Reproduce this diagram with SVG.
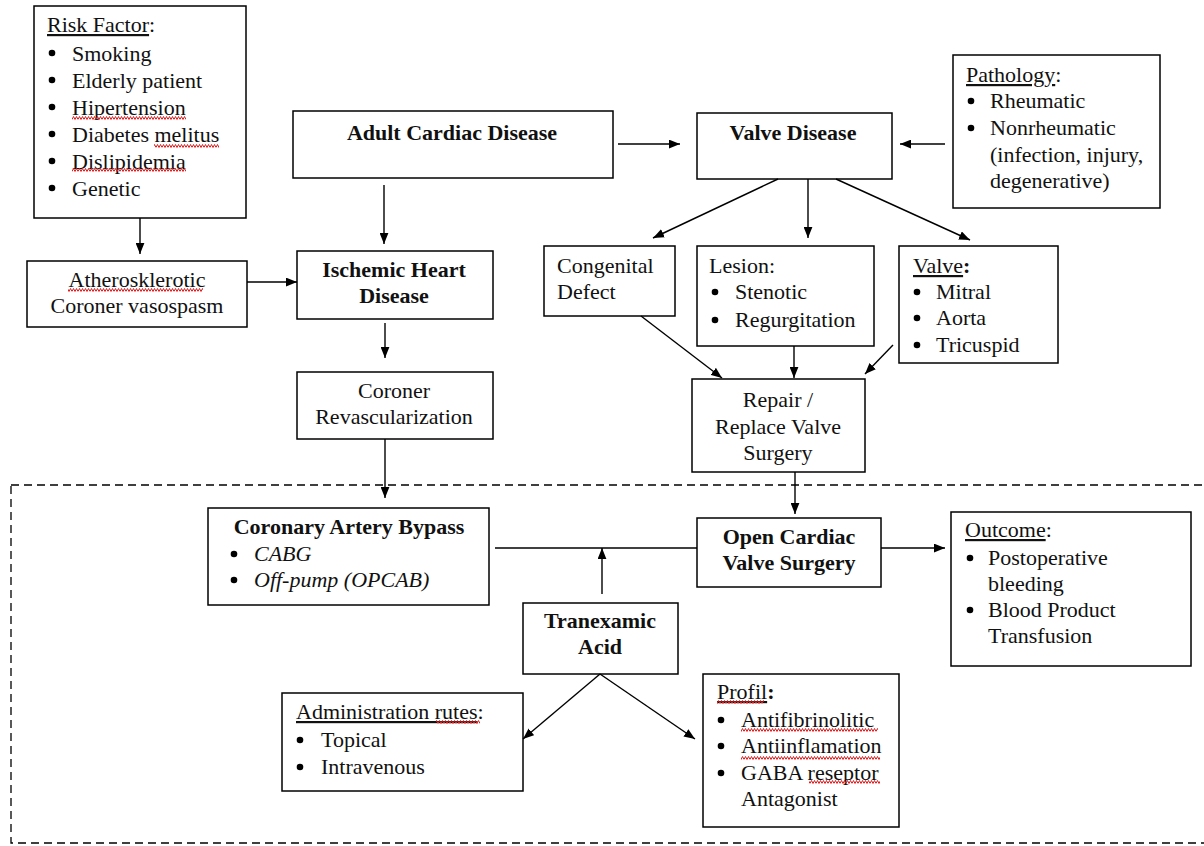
<svg xmlns="http://www.w3.org/2000/svg" width="1204" height="846" viewBox="0 0 1204 846">
<style>
  .box { fill: #fff; stroke: #000; stroke-width: 1.5; }
  text { font-family: "Liberation Serif", "Times New Roman", serif; font-size: 22px; fill: #111; }
  .b { font-weight: bold; }
  .c { text-anchor: middle; }
  .i { font-style: italic; }
  .u { text-decoration: underline; }
  .conn line { stroke: #000; stroke-width: 1.4; }
  .arr { marker-end: url(#ah); }
  .dot { fill: #000; }
  .sq { fill: url(#wave); }
</style>
<defs>
  <marker id="ah" viewBox="0 0 10 8" refX="10" refY="4" markerWidth="11" markerHeight="9" orient="auto" markerUnits="userSpaceOnUse">
    <path d="M0,0 L10,4 L0,8 z" fill="#000"/>
  </marker>
  <pattern id="wave" width="6" height="4" patternUnits="userSpaceOnUse">
    <path d="M0 3.5 L1.5 0.5 L3 3.5 L4.5 0.5 L6 3.5" fill="none" stroke="#e02020" stroke-width="1"/>
  </pattern>
</defs>
<rect width="1204" height="846" fill="#fff"/>

<!-- dashed region -->
<rect x="11" y="485" width="1200" height="358" fill="none" stroke="#000" stroke-width="1.3" stroke-dasharray="8,5"/>

<g id="risk-factor">
  <rect class="box" x="34" y="6" width="212" height="212"/>
  <text x="47" y="32"><tspan class="u">Risk Factor</tspan>:</text>
  <circle class="dot" cx="52" cy="53" r="3.3"/><text x="72" y="61">Smoking</text>
  <circle class="dot" cx="52" cy="80" r="3.3"/><text x="72" y="88">Elderly patient</text>
  <circle class="dot" cx="52" cy="107" r="3.3"/><text x="72" y="115">Hipertension</text>
  <circle class="dot" cx="52" cy="134" r="3.3"/><text x="72" y="142">Diabetes melitus</text>
  <circle class="dot" cx="52" cy="161" r="3.3"/><text x="72" y="169">Dislipidemia</text>
  <circle class="dot" cx="52" cy="188" r="3.3"/><text x="72" y="196">Genetic</text>
  <rect class="sq" x="72" y="116" width="114" height="4"/>
  <rect class="sq" x="154" y="144" width="65" height="4"/>
  <rect class="sq" x="72" y="168" width="114" height="4"/>
</g>

<g id="atherosklerotic">
  <rect class="box" x="27" y="261" width="220" height="66"/>
  <text class="c" x="137" y="287">Atherosklerotic</text>
  <text class="c" x="137" y="313">Coroner vasospasm</text>
  <rect class="sq" x="68" y="288" width="135" height="4"/>
</g>

<g id="adult-cardiac">
  <rect class="box" x="293" y="111" width="320" height="67"/>
  <text class="b c" x="452" y="140">Adult Cardiac Disease</text>
</g>

<g id="ischemic">
  <rect class="box" x="297" y="251" width="196" height="68"/>
  <text class="b c" x="394" y="277">Ischemic Heart</text>
  <text class="b c" x="394" y="303">Disease</text>
</g>

<g id="coroner-revasc">
  <rect class="box" x="297" y="372" width="196" height="67"/>
  <text class="c" x="394" y="398">Coroner</text>
  <text class="c" x="394" y="424">Revascularization</text>
</g>

<g id="valve-disease">
  <rect class="box" x="697" y="113" width="195" height="66"/>
  <text class="b c" x="793" y="140">Valve Disease</text>
</g>

<g id="pathology">
  <rect class="box" x="953" y="55" width="207" height="153"/>
  <text x="966" y="82"><tspan class="u">Pathology</tspan>:</text>
  <circle class="dot" cx="971" cy="101" r="3.3"/><text x="990" y="108">Rheumatic</text>
  <circle class="dot" cx="971" cy="128" r="3.3"/><text x="990" y="135">Nonrheumatic</text>
  <text x="990" y="162">(infection, injury,</text>
  <text x="990" y="188">degenerative)</text>
</g>

<g id="congenital">
  <rect class="box" x="544" y="246" width="131" height="70"/>
  <text x="557" y="273">Congenital</text>
  <text x="557" y="299">Defect</text>
</g>

<g id="lesion">
  <rect class="box" x="697" y="246" width="177" height="100"/>
  <text x="709" y="273">Lesion:</text>
  <circle class="dot" cx="715" cy="292" r="3.3"/><text x="735" y="299">Stenotic</text>
  <circle class="dot" cx="715" cy="320" r="3.3"/><text x="735" y="327">Regurgitation</text>
</g>

<g id="valve">
  <rect class="box" x="899" y="246" width="159" height="117"/>
  <text x="913" y="273"><tspan class="u">Valve</tspan><tspan class="b">:</tspan></text>
  <circle class="dot" cx="917" cy="292" r="3.3"/><text x="936" y="299">Mitral</text>
  <circle class="dot" cx="917" cy="318" r="3.3"/><text x="936" y="325">Aorta</text>
  <circle class="dot" cx="917" cy="345" r="3.3"/><text x="936" y="352">Tricuspid</text>
</g>

<g id="repair-replace">
  <rect class="box" x="692" y="379" width="173" height="93"/>
  <text class="c" x="778" y="407">Repair /</text>
  <text class="c" x="778" y="434">Replace Valve</text>
  <text class="c" x="778" y="460">Surgery</text>
</g>

<g id="cab">
  <rect class="box" x="208" y="508" width="281" height="97"/>
  <text class="b c" x="349" y="534">Coronary Artery Bypass</text>
  <circle class="dot" cx="234" cy="554" r="3.3"/><text class="i" x="254" y="561">CABG</text>
  <circle class="dot" cx="234" cy="580" r="3.3"/><text class="i" x="254" y="587">Off-pump (OPCAB)</text>
</g>

<g id="open-cardiac">
  <rect class="box" x="697" y="518" width="184" height="69"/>
  <text class="b c" x="789" y="544">Open Cardiac</text>
  <text class="b c" x="789" y="570">Valve Surgery</text>
</g>

<g id="outcome">
  <rect class="box" x="951" y="512" width="240" height="154"/>
  <text x="965" y="537"><tspan class="u">Outcome</tspan>:</text>
  <circle class="dot" cx="970" cy="558" r="3.3"/><text x="988" y="565">Postoperative</text>
  <text x="988" y="591">bleeding</text>
  <circle class="dot" cx="970" cy="610" r="3.3"/><text x="988" y="617">Blood Product</text>
  <text x="988" y="643">Transfusion</text>
</g>

<g id="tranexamic">
  <rect class="box" x="523" y="603" width="155" height="71"/>
  <text class="b c" x="600" y="628">Tranexamic</text>
  <text class="b c" x="600" y="654">Acid</text>
</g>

<g id="administration">
  <rect class="box" x="282" y="693" width="241" height="98"/>
  <text x="296" y="719"><tspan class="u">Administration rutes</tspan>:</text>
  <circle class="dot" cx="300" cy="740" r="3.3"/><text x="321" y="747">Topical</text>
  <circle class="dot" cx="300" cy="767" r="3.3"/><text x="321" y="774">Intravenous</text>
  <rect class="sq" x="436" y="720" width="44" height="4"/>
</g>

<g id="profil">
  <rect class="box" x="703" y="674" width="196" height="153"/>
  <text x="717" y="699"><tspan class="u">Profil</tspan><tspan class="b">:</tspan></text>
  <circle class="dot" cx="721" cy="720" r="3.3"/><text x="741" y="727">Antifibrinolitic</text>
  <circle class="dot" cx="721" cy="746" r="3.3"/><text x="741" y="753">Antiinflamation</text>
  <circle class="dot" cx="721" cy="773" r="3.3"/><text x="741" y="780">GABA reseptor</text>
  <text x="741" y="806">Antagonist</text>
  <rect class="sq" x="717" y="700" width="47" height="4"/>
  <rect class="sq" x="741" y="728" width="137" height="4"/>
  <rect class="sq" x="741" y="756" width="139" height="4"/>
  <rect class="sq" x="809" y="780" width="71" height="4"/>
</g>

<g id="connectors" class="conn">
  <line class="arr" x1="140" y1="218" x2="140" y2="254"/>
  <line class="arr" x1="247" y1="282" x2="297" y2="282"/>
  <line class="arr" x1="384" y1="185" x2="384" y2="244"/>
  <line class="arr" x1="385" y1="323" x2="385" y2="358"/>
  <line class="arr" x1="385" y1="439" x2="385" y2="498"/>
  <line class="arr" x1="618" y1="144" x2="680" y2="144"/>
  <line class="arr" x1="945" y1="144" x2="900" y2="144"/>
  <line class="arr" x1="778" y1="179" x2="653" y2="238"/>
  <line class="arr" x1="808" y1="179" x2="808" y2="238"/>
  <line class="arr" x1="836" y1="179" x2="970" y2="240"/>
  <line class="arr" x1="641" y1="316" x2="722" y2="378"/>
  <line class="arr" x1="794" y1="346" x2="794" y2="378"/>
  <line class="arr" x1="893" y1="345" x2="865" y2="374"/>
  <line class="arr" x1="795" y1="472" x2="795" y2="514"/>
  <line x1="495" y1="548" x2="697" y2="548"/>
  <line class="arr" x1="602" y1="594" x2="602" y2="548"/>
  <line class="arr" x1="881" y1="548" x2="945" y2="548"/>
  <line class="arr" x1="600" y1="674" x2="523" y2="739"/>
  <line class="arr" x1="600" y1="674" x2="695" y2="739"/>
</g>
</svg>
